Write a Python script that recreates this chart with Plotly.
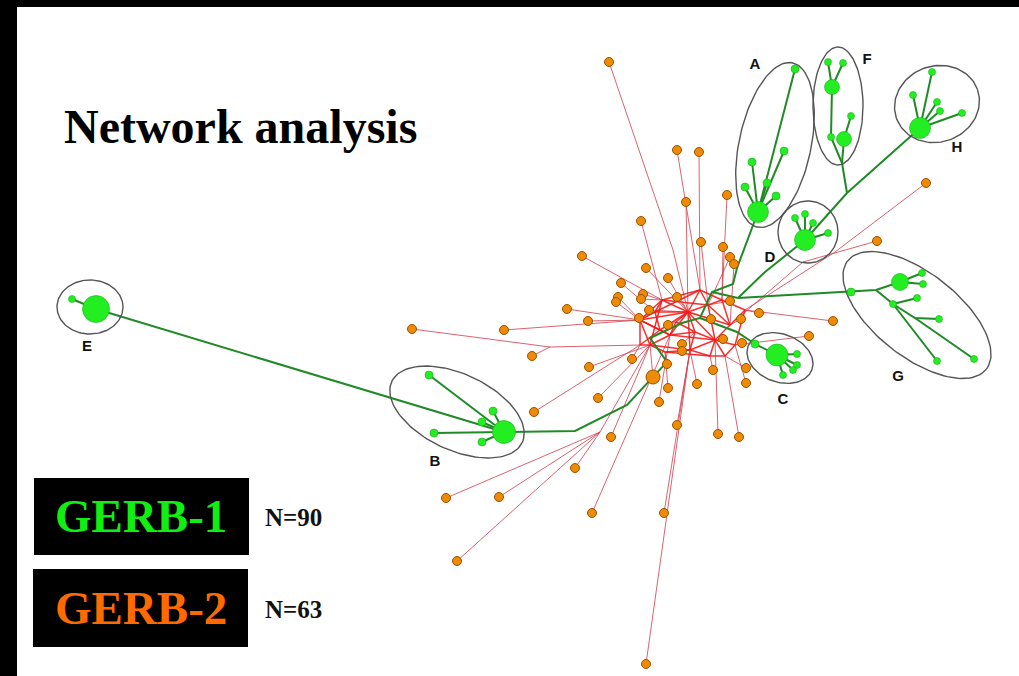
import numpy as np
import plotly.graph_objects as go

W, H = 1019, 676

# ---------------- GERB-2 (orange) nodes ----------------
orange_x = [609, 677, 699, 686, 641, 701, 582, 723, 730, 734, 727, 926, 877, 646, 668, 621, 618, 616,
            643, 641, 677, 730, 649, 588, 639, 668, 711, 741, 759, 723, 742, 682, 682, 632, 589, 667,
            713, 746, 653, 697, 746, 668, 598, 412, 504, 532, 567, 534, 611, 659, 677, 718, 739, 575,
            446, 499, 592, 664, 457, 646, 833, 809]
orange_y = [62, 150, 152, 202, 221, 242, 256, 247, 257, 264, 195, 183, 241, 268, 278, 283, 297, 302,
            294, 299, 297, 301, 310, 321, 318, 325, 319, 319, 313, 339, 343, 344, 351, 359, 367, 364,
            370, 368, 377, 384, 383, 388, 398, 329, 330, 356, 309, 412, 437, 402, 425, 434, 437, 468,
            498, 497, 513, 513, 561, 664, 321, 336]
orange_size = [9] * len(orange_x)
orange_size[38] = 14

# internal red junctions (hubs and bends)
red_jx = [688, 662, 708, 670, 715, 650, 690, 640, 730, 673, 550, 600, 835, 803,
          700, 676, 660, 722, 695, 745, 655, 710, 665, 725, 640, 735]
red_jy = [312, 300, 305, 335, 340, 345, 350, 320, 325, 250, 347, 432, 252, 262,
          290, 322, 330, 300, 332, 310, 312, 356, 352, 356, 345, 345]

# red edges: orange index -> sequence of red junction indices
red_paths = [
    (0, [9, 0]), (1, [14]), (2, [14]), (3, [0]), (4, [1]), (5, [2]), (6, [1]), (7, [17]), (8, [2]),
    (9, [8]), (10, [17]), (11, [12, 19]), (12, [13, 8]), (13, [0]), (14, [0]), (15, [20]), (16, [7]),
    (17, [7]), (18, [1]), (19, [1]), (20, [0]), (21, [2]), (22, [0]), (23, [7]), (24, [20]),
    (25, [15]), (26, [0]), (27, [8]), (28, [19]), (29, [4]), (30, [25]), (31, [18]), (32, [6]),
    (33, [24]), (34, [5]), (35, [22]), (36, [21]), (37, [23]), (38, [5]), (39, [6]), (40, [25]),
    (41, [22]), (42, [5]), (43, [10, 24]), (44, [7]), (45, [10]), (46, [7]), (47, [24]), (48, [5]),
    (49, [3]), (50, [6]), (51, [4]), (52, [23]), (53, [11, 5]), (54, [11]), (55, [11]), (56, [3]),
    (57, [6]), (58, [11]), (59, [6]), (60, [19]), (61, [25]),
]
# tangle between hubs in the centre
red_tangle = [(0, 1), (0, 2), (0, 3), (0, 6), (1, 7), (2, 8), (3, 5), (4, 8), (4, 6), (5, 7),
              (3, 4), (1, 5), (2, 4), (0, 7), (0, 4), (6, 5), (1, 2), (3, 7), (0, 8),
              (14, 0), (14, 2), (14, 1), (15, 0), (15, 3), (16, 3), (16, 7), (17, 2), (17, 8),
              (18, 3), (18, 4), (18, 6), (19, 8), (19, 17), (20, 1), (20, 7), (20, 0), (21, 6),
              (21, 4), (22, 6), (22, 5), (23, 4), (23, 21), (24, 5), (24, 16), (25, 4), (25, 19),
              (15, 18), (16, 20), (22, 21), (17, 14), (24, 7), (25, 23), (0, 16), (0, 18), (14, 20)]

# ---------------- GERB-1 (green) nodes ----------------
green_x = [96, 72, 504, 429, 493, 482, 434, 482, 758, 795, 752, 784, 745, 767, 776, 832, 828, 843,
           851, 844, 831, 920, 932, 913, 937, 940, 962, 805, 795, 805, 813, 828, 777, 755, 797, 797,
           793, 783, 900, 851, 922, 923, 917, 893, 939, 937, 974]
green_y = [309, 299, 432, 375, 411, 422, 433, 442, 212, 69, 162, 151, 187, 183, 196, 87, 62, 63,
           116, 139, 137, 128, 72, 95, 102, 111, 113, 240, 218, 214, 223, 233, 355, 344, 354, 365,
           370, 375, 282, 292, 273, 284, 298, 304, 319, 361, 359]
green_size = [27, 7, 23, 8, 8, 8, 8, 8, 21, 8, 8, 8, 8, 8, 8, 15, 7, 7,
              7, 15, 7, 21, 7, 7, 7, 7, 7, 21, 7, 7, 7, 7, 22, 8, 7, 7,
              7, 7, 17, 8, 7, 7, 7, 7, 7, 7, 7]

# green junction points
green_jx = [575, 627, 667, 650, 700, 712, 733, 737, 765, 847, 842, 737, 876, 915, 738, 682]
green_jy = [431, 405, 362, 338, 318, 292, 284, 268, 272, 193, 163, 332, 290, 318, 298, 323]

# green paths: tokens 'g#' green node, 'j#' green junction, 'o#' orange node
green_paths = [
    ["g0", "g1"], ["g0", "g2"],
    ["g2", "g3"], ["g2", "g4"], ["g2", "g5"], ["g2", "g6"], ["g2", "g7"],
    ["g2", "j0", "j1", "o38", "j2", "j3", "j15", "j4", "j5", "j6", "j7", "g8"],
    ["g8", "g9"], ["g8", "g10"], ["g8", "g11"], ["g8", "g12"], ["g8", "g13"], ["g8", "g14"],
    ["j14", "j8", "g27"], ["j5", "j14"], ["j14", "g39", "j12", "g38"],
    ["j4", "j11", "g33", "g32"],
    ["g32", "g34"], ["g32", "g35"], ["g32", "g36"], ["g32", "g37"],
    ["g27", "g28"], ["g27", "g29"], ["g27", "g30"], ["g27", "g31"],
    ["g27", "j9", "g21"], ["j9", "j10", "g20", "g15"], ["j10", "g19"],
    ["g15", "g16"], ["g15", "g17"], ["g19", "g18"],
    ["g21", "g22"], ["g21", "g23"], ["g21", "g24"], ["g21", "g25"], ["g21", "g26"],
    ["g38", "g40"], ["g38", "g41"], ["j12", "g43"], ["g43", "g42"], ["g43", "j13", "g44"],
    ["g43", "g45"], ["j13", "g46"],
]

# ---------------- cluster ellipses ----------------
cluster_labels = ["E", "B", "A", "F", "H", "D", "C", "G"]
ell_cx = [90, 457, 775, 838, 937, 808, 780, 917]
ell_cy = [307, 412, 145, 106, 104, 232, 358, 315]
ell_a = [33, 72, 36, 25, 43, 30, 34, 88]
ell_b = [27, 38, 84, 59, 38, 31, 24, 42]
ell_ang = [0, 25, 12, 0, -20, 0, 20, 38]
label_x = [87, 435, 755, 867, 957, 770, 783, 898]
label_y = [347, 462, 65, 60, 148, 258, 400, 377]

legend_names = ["GERB-1", "GERB-2"]
legend_counts = ["N=90", "N=63"]
legend_colors = ["#11EE11", "#FF6A00"]

SERIF = "Liberation Serif, Times New Roman, serif"


def pt(tok):
    i = int(tok[1:])
    if tok[0] == "g":
        return green_x[i], green_y[i]
    if tok[0] == "j":
        return green_jx[i], green_jy[i]
    return orange_x[i], orange_y[i]


fig = go.Figure()

# red edges
rx, ry = [], []
for oi, hubs in red_paths:
    rx.append(orange_x[oi]); ry.append(orange_y[oi])
    for h in hubs:
        rx.append(red_jx[h]); ry.append(red_jy[h])
    rx.append(None); ry.append(None)
fig.add_trace(go.Scatter(x=rx, y=ry, mode="lines", line=dict(color="rgba(210,60,75,0.8)", width=1),
                         hoverinfo="skip", showlegend=False))
tx, ty = [], []
for a, b in red_tangle:
    tx += [red_jx[a], red_jx[b], None]
    ty += [red_jy[a], red_jy[b], None]
fig.add_trace(go.Scatter(x=tx, y=ty, mode="lines", line=dict(color="rgba(245,25,25,0.9)", width=1.5),
                         hoverinfo="skip", showlegend=False))

# green edges
gx, gy = [], []
for path in green_paths:
    for tok in path:
        x, y = pt(tok)
        gx.append(x); gy.append(y)
    gx.append(None); gy.append(None)
fig.add_trace(go.Scatter(x=gx, y=gy, mode="lines", line=dict(color="#1F8A26", width=2),
                         hoverinfo="skip", showlegend=False))

# ellipses
t = np.linspace(0, 2 * np.pi, 120)
ex, ey = [], []
for cx, cy, a, b, ang in zip(ell_cx, ell_cy, ell_a, ell_b, ell_ang):
    th = np.radians(ang)
    xs = cx + a * np.cos(t) * np.cos(th) - b * np.sin(t) * np.sin(th)
    ys = cy + a * np.cos(t) * np.sin(th) + b * np.sin(t) * np.cos(th)
    ex += list(xs) + [None]
    ey += list(ys) + [None]
fig.add_trace(go.Scatter(x=ex, y=ey, mode="lines", line=dict(color="#555555", width=1.4),
                         hoverinfo="skip", showlegend=False))

# nodes
fig.add_trace(go.Scatter(x=orange_x, y=orange_y, mode="markers",
                         marker=dict(size=orange_size, color="#EE8A06", opacity=1,
                                     line=dict(color="#9A5200", width=1)),
                         hoverinfo="skip", showlegend=False))
fig.add_trace(go.Scatter(x=green_x, y=green_y, mode="markers",
                         marker=dict(size=green_size, color="#22EE22", opacity=1,
                                     line=dict(color="#18B018", width=0.6)),
                         hoverinfo="skip", showlegend=False))

# cluster labels
fig.add_trace(go.Scatter(x=label_x, y=label_y, mode="text", text=[f"<b>{s}</b>" for s in cluster_labels],
                         textfont=dict(family="Liberation Sans, Arial", size=15, color="#111"),
                         hoverinfo="skip", showlegend=False))

shapes = [
    dict(type="rect", x0=0, x1=W, y0=0, y1=7, fillcolor="black", line_width=0, layer="above"),
    dict(type="rect", x0=0, x1=17, y0=0, y1=H, fillcolor="black", line_width=0, layer="above"),
    dict(type="rect", x0=34, x1=249, y0=478, y1=555, fillcolor="black", line_width=0),
    dict(type="rect", x0=33, x1=248, y0=569, y1=647, fillcolor="black", line_width=0),
]

annotations = [
    dict(x=62, y=126, xref="x", yref="y", xanchor="left", yanchor="middle", showarrow=False,
         text="<b>Network analysis</b>",
         font=dict(family=SERIF, size=48, color="black", weight="bold")),
]
box_cy = [516, 608]
for name, cnt, col, cy in zip(legend_names, legend_counts, legend_colors, box_cy):
    annotations.append(dict(x=141, y=cy, xref="x", yref="y", xanchor="center", yanchor="middle",
                            showarrow=False, text=f"<b>{name}</b>",
                            font=dict(family=SERIF, size=47, color=col, weight="bold")))
    annotations.append(dict(x=263, y=cy + 1, xref="x", yref="y", xanchor="left", yanchor="middle",
                            showarrow=False, text=f"<b>{cnt}</b>",
                            font=dict(family=SERIF, size=25, color="#111", weight="bold")))

fig.update_layout(
    width=W, height=H, autosize=False,
    margin=dict(l=0, r=0, t=0, b=0),
    paper_bgcolor="white", plot_bgcolor="white",
    xaxis=dict(range=[0, W], visible=False, fixedrange=True),
    yaxis=dict(range=[H, 0], visible=False, fixedrange=True),
    shapes=shapes, annotations=annotations,
    hovermode=False,
)

fig.write_html("out.html", config={"displayModeBar": False},
               post_script="document.body.style.margin='0px';document.body.style.overflow='hidden';")
